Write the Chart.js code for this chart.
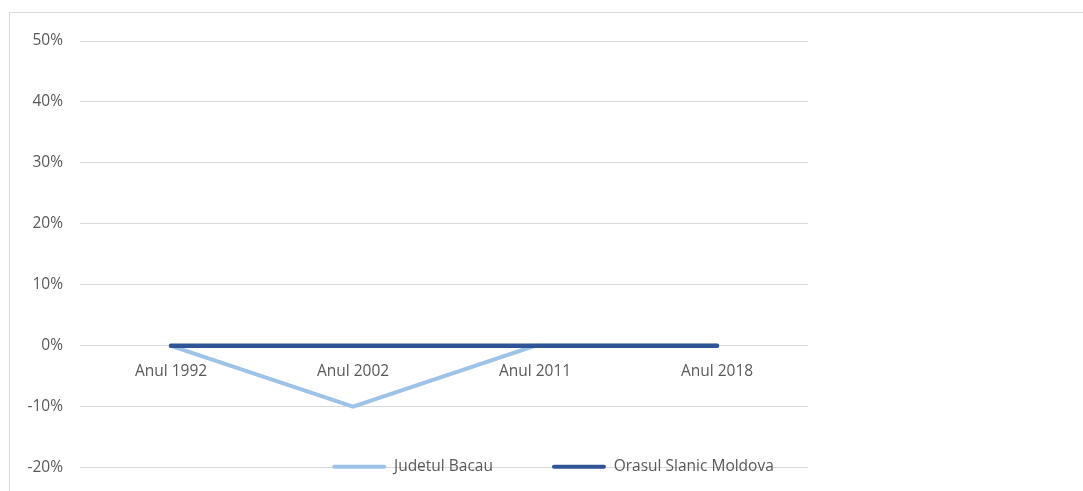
<!DOCTYPE html>
<html>
<head>
<meta charset="utf-8">
<script src="https://cdn.jsdelivr.net/npm/chart.js@4/dist/chart.umd.min.js"></script>
<style>
  html, body { margin: 0; padding: 0; background: #fff; overflow: hidden; }
  #wrap { position: relative; width: 1083px; height: 491px; overflow: hidden; }
  #frame { position: absolute; left: 9px; top: 12px; width: 2000px; height: 1000px; border: 1px solid #d9d9d9; box-sizing: border-box; }
  #chart { position: absolute; left: 0; top: 3px; }
</style>
</head>
<body>
<div id="wrap">
  <div id="frame"></div>
  <canvas id="chart" width="1083" height="491"></canvas>
</div>
<script>
// Data
const years = ['Anul 1992', 'Anul 2002', 'Anul 2011', 'Anul 2018'];
const judetulBacau = [0, -10, 0, 0];
const orasulSlanicMoldova = [0, 0, 0, 0];
const seriesNames = ['Judetul Bacau', 'Orasul Slanic Moldova'];
const seriesColors = ['#9dc3e6', '#2f5597'];

const textColor = '#595959';
const gridColor = '#d9d9d9';
const fontFamily = '"Open Sans", "Noto Sans", sans-serif';
const fontSize = 15.5;
const legendPad = 59;

// Move the legend up so it sits over the bottom gridline, like the original
const legendShift = {
    id: 'legendShift',
    afterLayout(chart) {
        const lg = chart.legend;
        if (!lg) return;
        const top = chart.chartArea.bottom - 1 - legendPad - fontSize / 2;
        const dx = 553 - (lg.left + lg.right) / 2;
        lg.top = top;
        lg.bottom = top + 2 * legendPad + fontSize;
        lg.left += dx;
        lg.right += dx;
    }
};

const ctx = document.getElementById('chart').getContext('2d');
new Chart(ctx, {
    type: 'line',
    data: {
        labels: years,
        datasets: [{
            label: seriesNames[0],
            data: judetulBacau,
            borderColor: seriesColors[0],
            backgroundColor: seriesColors[0],
            borderWidth: 4,
            order: 1
        }, {
            label: seriesNames[1],
            data: orasulSlanicMoldova,
            borderColor: seriesColors[1],
            backgroundColor: seriesColors[1],
            borderWidth: 4.5,
            order: 0
        }]
    },
    options: {
        responsive: false,
        animation: false,
        devicePixelRatio: 1,
        layout: {
            padding: { left: 0, right: 275, top: 38, bottom: 0 }
        },
        elements: {
            line: { tension: 0, borderCapStyle: 'round', borderJoinStyle: 'miter', fill: false },
            point: { radius: 0, hoverRadius: 0 }
        },
        plugins: {
            tooltip: { enabled: false },
            legend: {
                position: 'bottom',
                maxHeight: 20,
                labels: {
                    color: textColor,
                    font: { family: fontFamily, size: fontSize },
                    boxWidth: 54,
                    boxHeight: 4,
                    padding: legendPad,
                    generateLabels(chart) {
                        return chart.data.datasets.map((ds, i) => ({
                            text: ds.label,
                            fillStyle: ds.borderColor,
                            strokeStyle: ds.borderColor,
                            lineWidth: 0,
                            borderRadius: 2,
                            fontColor: textColor,
                            hidden: false,
                            datasetIndex: i
                        }));
                    }
                }
            }
        },
        scales: {
            x: {
                position: { y: 0 },
                offset: true,
                grid: { display: false },
                border: { display: false },
                ticks: {
                    color: textColor,
                    font: { family: fontFamily, size: fontSize },
                    padding: 8,
                    maxRotation: 0
                }
            },
            y: {
                min: -20,
                max: 50,
                grid: { color: gridColor, lineWidth: 1, drawTicks: false },
                border: { display: false },
                ticks: {
                    stepSize: 10,
                    color: textColor,
                    font: { family: fontFamily, size: fontSize },
                    padding: 17,
                    callback: (v) => v + '%'
                },
                afterFit(scale) { scale.width = 80; }
            }
        }
    },
    plugins: [legendShift]
});
</script>
</body>
</html>
